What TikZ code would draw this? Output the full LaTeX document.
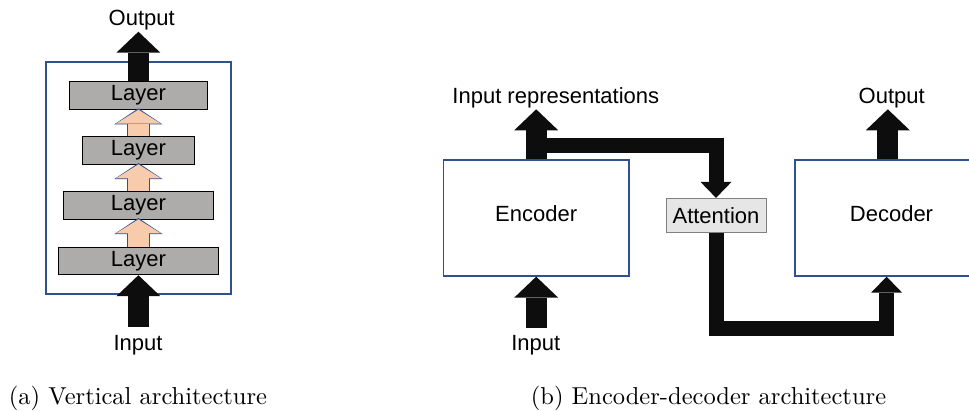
\documentclass[tikz,border=0pt]{standalone}
\usepackage{fontspec}
\usepackage{graphicx}
\usetikzlibrary{arrows.meta}
\newfontfamily\diagfont{Liberation Sans}

\definecolor{boxblue}{HTML}{2F528F}
\definecolor{layergray}{HTML}{AEABAB}
\definecolor{attgray}{HTML}{E7E6E6}
\definecolor{peach}{HTML}{F8CBAD}
\definecolor{arrowblack}{HTML}{0D0D0D}

\def\capText#1{\scalebox{2.45}{\rmfamily\fontsize{10pt}{12pt}\selectfont #1}}

\tikzset{
	diag/.style={font=\diagfont\fontsize{22pt}{26pt}\selectfont},
	outerbox/.style={draw=boxblue, line width=1.3pt, fill=white, inner sep=0pt},
	layerbox/.style={draw=black, line width=0.8pt, fill=layergray, minimum height=27.6pt, inner sep=0pt},
	attbox/.style={draw=black!50, line width=0.8pt, fill=attgray, minimum width=100pt, minimum height=34pt, inner sep=0pt},
	blackarrow/.style={draw=arrowblack, line width=21pt, -{Triangle[width=44pt,length=21pt,line width=0pt]}},
	bentarrow/.style={draw=arrowblack, line width=15pt, line join=miter, -{Triangle[width=31pt,length=16pt,line width=0pt]}},
	peacharrow/.style={draw=peach, line width=21pt, -{Triangle[width=45pt,length=14pt,line width=0pt]},
		preaction={draw=boxblue, line width=22.6pt, shorten >=-1.4pt, -{Triangle[width=48pt,length=16pt,line width=0pt]}}}
}

\begin{document}
\begin{tikzpicture}[x=1pt, y=-1pt, diag]
		\clip (0,0) rectangle (969,410);
		
		% vertical stack
		\node[outerbox, minimum width=185pt, minimum height=232pt] (stack) at (138.5,178) {};
		\node[layerbox, minimum width=137.6pt] (l1) at (138.4,95.5) {Layer};
		\node[layerbox, minimum width=112pt] (l2) at (138.4,150.2) {Layer};
		\node[layerbox, minimum width=150pt] (l3) at (138.4,205.2) {Layer};
		\node[layerbox, minimum width=160pt] (l4) at (138.4,261) {Layer};
		
		\draw[peacharrow] (l4.north) -- (l3.south);
		\draw[peacharrow] (l3.north) -- (l2.south);
		\draw[peacharrow] (l2.north) -- (l1.south);
		
		\coordinate (stackout) at (138.4,31.7);
		\coordinate (stackin) at (138.4,326.7);
		\draw[blackarrow] (l1.north) -- (stackout);
		\draw[blackarrow] (stackin) -- (l4.south);
		
		\node[anchor=base] (stackoutlabel) at (141.7,25) {Output};
		\node[anchor=base] (stackinlabel) at (138,350) {Input};
		
		% encoder-decoder
		\node[outerbox, minimum width=185.7pt, minimum height=116pt, label={[yshift=4pt]center:Encoder}] (enc) at (536.2,218) {};
		\node[outerbox, minimum width=193pt, minimum height=116pt, label={[yshift=4pt]center:Decoder}] (dec) at (891.5,218) {};
		\node[attbox] (att) at (716,215.3) {Attention};
		
		\coordinate (encbend) at (536.2,145.8);
		\coordinate (encout) at (536.2,109.3);
		\coordinate (encin) at (536.2,328.3);
		\coordinate (decout) at (887.8,109.3);
		\coordinate (decin) at (886.6,328.2);
		
		\draw[bentarrow] (encbend) -| (att.north);
		\draw[blackarrow] (enc.north) -- (encout);
		\draw[blackarrow] (encin) -- (enc.south);
		\draw[bentarrow] (att.south) |- (decin) -- (decin |- dec.south);
		\draw[blackarrow] (decout |- dec.north) -- (decout);
		
		\node[anchor=base] (replabel) at (555.8,103.3) {Input representations};
		\node[anchor=base] (encinlabel) at (535.8,350) {Input};
		\node[anchor=base] (decoutlabel) at (891.7,103.3) {Output};
		
		% captions
		\node (capa) at (138,398) {\capText{(a) Vertical architecture}};
		\node (capb) at (708.5,398) {\capText{(b) Encoder-decoder architecture}};
\end{tikzpicture}
\end{document}
